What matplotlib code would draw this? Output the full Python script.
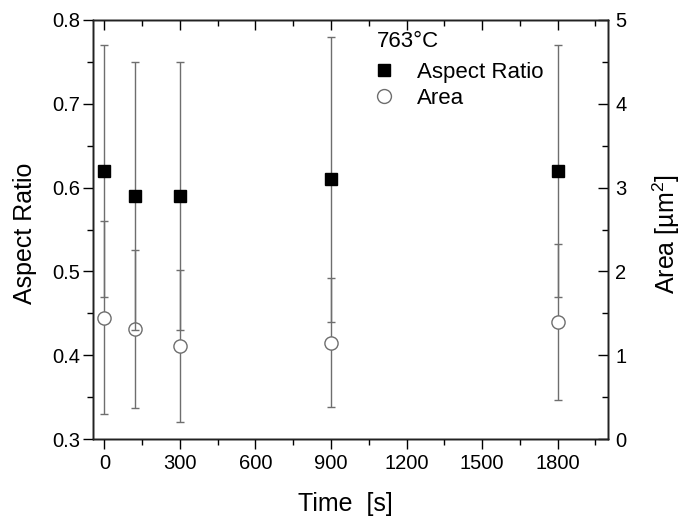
import numpy as np
import matplotlib
matplotlib.use("Agg")
import matplotlib.pyplot as plt
from matplotlib.lines import Line2D
from matplotlib.ticker import MultipleLocator

plt.rcParams["font.family"] = ["Liberation Sans", "DejaVu Sans"]
plt.rcParams["mathtext.fontset"] = "custom"
plt.rcParams["mathtext.rm"] = "Liberation Sans"

# data
time_s = [0, 120, 300, 900, 1800]
aspect_ratio = [0.62, 0.59, 0.59, 0.61, 0.62]
aspect_err = [0.15, 0.16, 0.16, 0.17, 0.15]
area = [1.45, 1.31, 1.11, 1.15, 1.40]
area_err = [1.15, 0.94, 0.91, 0.77, 0.93]

err_col = "#6e6e6e"

fig = plt.figure(figsize=(6.84, 5.19), dpi=100)
ax = fig.add_axes([0.136, 0.154, 0.753, 0.8075])
ax2 = ax.twinx()
ax_top = ax.twiny()

# area on the right axis, drawn below the squares
ax2.errorbar(time_s, area, yerr=area_err, fmt="o", ms=9.5, mfc="white",
             mec=err_col, mew=1.0, ecolor=err_col, elinewidth=1.0,
             capsize=2.6, capthick=1.0, zorder=2)
ax2.set_ylim(0, 5)

ax.errorbar(time_s, aspect_ratio, yerr=aspect_err, fmt="s", ms=8.5,
            color="black", ecolor=err_col, elinewidth=1.0,
            capsize=2.6, capthick=1.0, zorder=3)
ax.set_zorder(ax2.get_zorder() + 1)
ax.patch.set_visible(False)

ax.set_xlim(-45, 2000)
ax.set_ylim(0.3, 0.8)
ax_top.set_xlim(ax.get_xlim())

for a in (ax, ax2, ax_top):
    for s in a.spines.values():
        s.set_linewidth(1.0)
        s.set_color("#222222")

ax.xaxis.set_major_locator(MultipleLocator(300))
ax.xaxis.set_minor_locator(MultipleLocator(150))
ax.yaxis.set_major_locator(MultipleLocator(0.1))
ax.yaxis.set_minor_locator(MultipleLocator(0.05))
ax.yaxis.set_major_formatter(plt.FormatStrFormatter("%.1f"))
ax.tick_params(which="major", direction="out", length=7, width=1.0,
               labelsize=14.5, pad=2)
ax.tick_params(axis="x", which="major", pad=4)
ax.tick_params(which="minor", direction="out", length=4, width=1.0)

ax_top.xaxis.set_major_locator(MultipleLocator(300))
ax_top.xaxis.set_minor_locator(MultipleLocator(150))
ax_top.tick_params(which="major", direction="in", length=7, width=1.0,
                   labeltop=False)
ax_top.tick_params(which="minor", direction="in", length=4, width=1.0)

ax2.yaxis.set_major_locator(MultipleLocator(1))
ax2.yaxis.set_minor_locator(MultipleLocator(0.5))
ax2.tick_params(which="major", direction="in", length=7, width=1.0,
                labelsize=14.5, pad=5)
ax2.tick_params(which="minor", direction="in", length=4, width=1.0)

ax.set_xlabel("Time  [s]", fontsize=18)
ax.xaxis.set_label_coords(0.49, -0.126)
ax.set_ylabel("Aspect Ratio", fontsize=18)
ax.yaxis.set_label_coords(-0.108, 0.49)
ax2.set_ylabel("Area [µm$^\\mathregular{2}$]", fontsize=18)
ax2.yaxis.set_label_coords(1.082, 0.49)

# temperature label above the legend
ax.text(0.5515, 0.9363, "763°C", transform=ax.transAxes, fontsize=16,
        ha="left", va="baseline")

handles = [
    Line2D([], [], ls="none", marker="s", ms=8, color="black"),
    Line2D([], [], ls="none", marker="o", ms=10, mfc="white", mec=err_col,
           mew=1.0),
]
leg = ax.legend(handles, ["Aspect Ratio", "Area"],
                loc="upper left", bbox_to_anchor=(0.5479, 0.9005),
                frameon=False, fontsize=16,
                handlelength=0.8, handletextpad=1.06, labelspacing=0.25,
                borderaxespad=0.0, borderpad=0.0)

fig.savefig("out.png", dpi=100)
